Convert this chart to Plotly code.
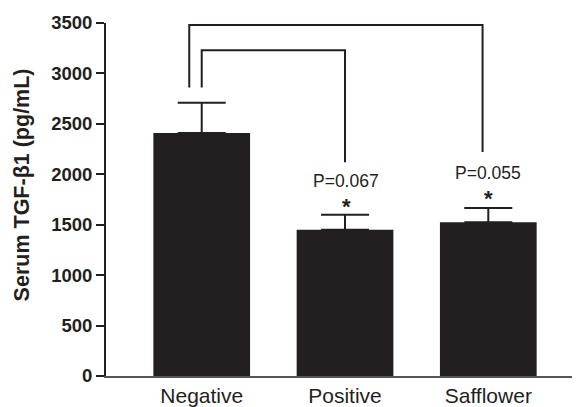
import plotly.graph_objects as go

categories = ["Negative", "Positive", "Safflower"]
means = [2410, 1450, 1525]
errors = [300, 150, 140]
y_ticks = [0, 500, 1000, 1500, 2000, 2500, 3000, 3500]
y_title = "Serum TGF-β1 (pg/mL)"

# comparison brackets: (left x, right x, top y, left leg bottom, right leg bottom)
bracket_outer = [-0.087, 1.96, 3480, 2860, 2220]
bracket_inner = [0.0, 1.0, 3230, 2860, 2120]
p_labels = ["P=0.067", "P=0.055"]
p_label_x = [1.01, 2.0]
p_label_y = [1935, 2014]
star_y = [1723, 1803]

INK = "#231f20"
FONT = "Liberation Sans, Arial, sans-serif"

fig = go.Figure()
fig.add_trace(go.Bar(
    x=[0, 1, 2], y=means, width=0.675,
    marker=dict(color=INK, line=dict(width=0)),
    error_y=dict(type="data", symmetric=False, array=errors,
                 arrayminus=[0, 0, 0], color=INK, thickness=2, width=24),
))

for b in (bracket_outer, bracket_inner):
    xl, xr, top, yl, yr = b
    fig.add_shape(type="path",
                  path=f"M {xl} {yl} L {xl} {top} L {xr} {top} L {xr} {yr}",
                  line=dict(color=INK, width=2), xref="x", yref="y")

for t, x, y, sy in zip(p_labels, p_label_x, p_label_y, star_y):
    fig.add_annotation(x=x, y=y, text=t, showarrow=False, xref="x", yref="y",
                       font=dict(size=17.5, color=INK, family=FONT))
    fig.add_annotation(x=x, y=sy, text="*", showarrow=False, xref="x", yref="y",
                       yshift=-4,
                       font=dict(size=22, color=INK, family=FONT, weight="bold"))

fig.add_annotation(text=y_title, xref="paper", yref="paper", x=0, y=0.54,
                   xanchor="center", yanchor="middle", xshift=-84, textangle=-90,
                   showarrow=False,
                   font=dict(size=21.5, color=INK, family=FONT, weight="bold"))

fig.update_layout(
    width=580, height=407,
    margin=dict(l=98, r=8, t=15, b=39),
    paper_bgcolor="white", plot_bgcolor="white",
    showlegend=False,
    font=dict(family=FONT, color=INK),
)
fig.update_xaxes(
    range=[-0.668, 2.64], tickvals=[0, 1, 2], ticktext=categories,
    automargin=False,
    showgrid=False, zeroline=False, showline=True, linecolor="#555", linewidth=1.5,
    ticks="", ticklabelstandoff=0, tickfont=dict(size=21, color=INK, family=FONT),
)
fig.update_yaxes(
    range=[0, 3500], tickvals=y_ticks, ticktext=[str(v) for v in y_ticks],
    automargin=False,
    showgrid=False, zeroline=False, showline=True, linecolor=INK, linewidth=2,
    ticks="outside", ticklen=8, tickwidth=2, tickcolor=INK, ticklabelstandoff=0,
    tickfont=dict(size=18.5, color=INK, family=FONT, weight="bold"),
)

fig.write_html("out.html")
